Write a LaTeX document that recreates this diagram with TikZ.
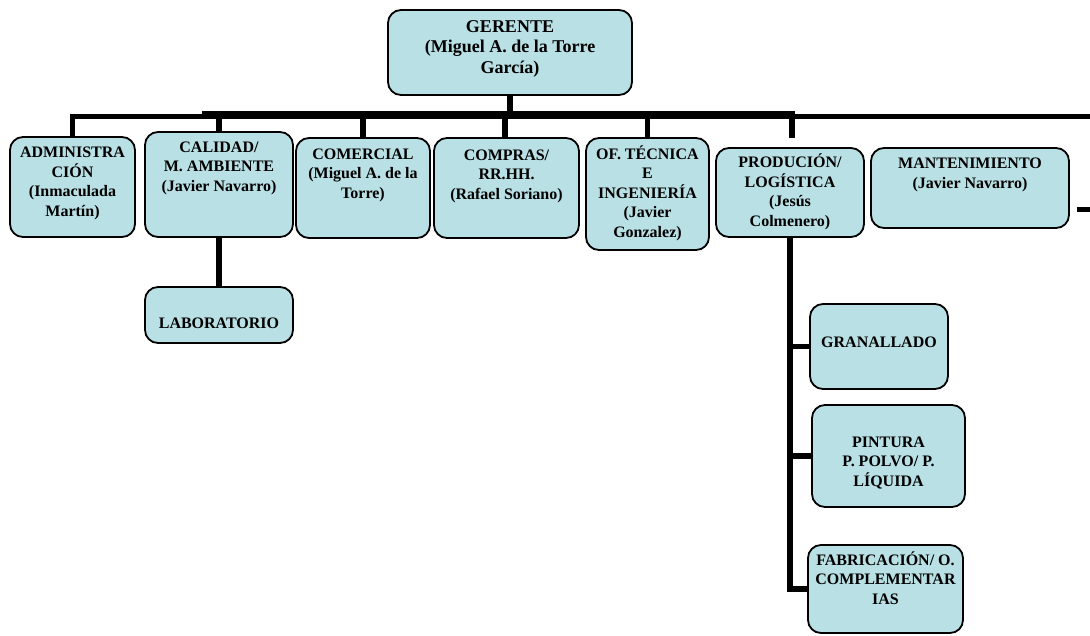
\documentclass[tikz,border=0pt]{standalone}
\usepackage{fontspec}
\setmainfont{Liberation Serif}
\definecolor{boxfill}{RGB}{185,224,228}
\tikzset{
  box/.style={draw, line width=1.8pt, rounded corners=13pt, fill=boxfill, inner sep=0pt},
  txt/.style={align=center, inner sep=0pt, anchor=base, font=\bfseries\fontsize{16}{19.5}\selectfont},
  bar/.style={line width=5.5pt},
}
\begin{document}
\begin{tikzpicture}[x=1pt, y=-1pt]
        \useasboundingbox (0,0) rectangle (1090,635);

        %Gerente (text nodes are anchored at the baseline of their last line)
        \node [box, minimum width=244, minimum height=85]  (ger) at (510,52.5)  {};
        \node [txt, font=\bfseries\fontsize{18}{20.5}\selectfont] (ger-t) at (510,73)
              {GERENTE\\(Miguel A. de la Torre\\García)};

        %First level
        \node [box, minimum width=125, minimum height=100] (adm) at (72.5,187)  {};
        \node [box, minimum width=148, minimum height=105] (cal) at (219,184.5) {};
        \node [box, minimum width=134, minimum height=100] (com) at (363,188)   {};
        \node [box, minimum width=145, minimum height=100] (cmp) at (506.5,188) {};
        \node [box, minimum width=123, minimum height=112] (oft) at (647.5,194) {};
        \node [box, minimum width=148, minimum height=89]  (pro) at (790,192.5) {};
        \node [box, minimum width=198, minimum height=80]  (man) at (970,188)   {};

        \node [txt] (adm-t) at (72.5,216)  {ADMINISTRA\\CIÓN\\(Inmaculada\\Martín)};
        \node [txt] (cal-t) at (219,191)   {CALIDAD/\\M. AMBIENTE\\(Javier Navarro)};
        \node [txt] (com-t) at (363,198)   {COMERCIAL\\(Miguel A. de la\\Torre)};
        \node [txt] (cmp-t) at (506.5,199) {COMPRAS/\\RR.HH.\\(Rafael Soriano)};
        \node [txt] (oft-t) at (647.5,237) {OF. TÉCNICA\\E\\INGENIERÍA\\(Javier\\Gonzalez)};
        \node [txt] (pro-t) at (790,226)   {PRODUCIÓN/\\LOGÍSTICA\\(Jesús\\Colmenero)};
        \node [txt] (man-t) at (970,188)   {MANTENIMIENTO\\(Javier Navarro)};

        %Second level
        \node [box, minimum width=148, minimum height=56]  (lab) at (219,315)   {};
        \node [box, minimum width=138, minimum height=85]  (gra) at (879,346.5) {};
        \node [box, minimum width=153, minimum height=102] (pin) at (888.5,456) {};
        \node [box, minimum width=155, minimum height=88]  (fab) at (885.5,589) {};

        \node [txt] (lab-t) at (219,328)   {LABORATORIO};
        \node [txt] (gra-t) at (879,347)   {GRANALLADO};
        \node [txt] (pin-t) at (888.5,486) {PINTURA\\P. POLVO/ P.\\LÍQUIDA};
        \node [txt] (fab-t) at (885.5,604) {FABRICACIÓN/ O.\\COMPLEMENTAR\\IAS};

        %Main bus
        \coordinate (bus-r) at (1090,116.5);
        \coordinate (bus-b) at (202,113);
        \coordinate (bus-c) at (795,113);
        \coordinate (pro-top) at (792,138);
        \draw [bar]                (bus-r) -- (adm.north |- bus-r) -- (adm.north);
        \draw [bar, line width=5pt] (bus-b) -- (bus-c);
        \draw [bar]                (ger.south) -- (ger.south |- bus-b);

        %Drops to first level
        \draw [bar]  (cal.north |- bus-r) -- (cal.north);
        \draw [bar]  (com.north |- bus-r) -- (com.north);
        \draw [bar]  ([xshift=-1.5pt]cmp.north |- bus-r) -- ([xshift=-1.5pt]cmp.north);
        \draw [bar]  (oft.north |- bus-r) -- (oft.north);
        \draw [bar]  (pro-top |- bus-r) -- (pro-top);

        %Mantenimiento stub
        \coordinate (man-r)  at (1077,209.7);
        \coordinate (edge-r) at (1090,209.7);
        \draw [bar]  (man-r) -- (edge-r);

        %Calidad branch
        \draw [bar]  (cal.south) -- (lab.north);

        %Produccion branch
        \draw [bar]  (pro.south) -- (pro.south |- fab.west) -- (fab.west);
        \draw [bar]  (pro.south |- gra.west) -- (gra.west);
        \draw [bar]  (pro.south |- pin.west) -- (pin.west);

\end{tikzpicture}
\end{document}
